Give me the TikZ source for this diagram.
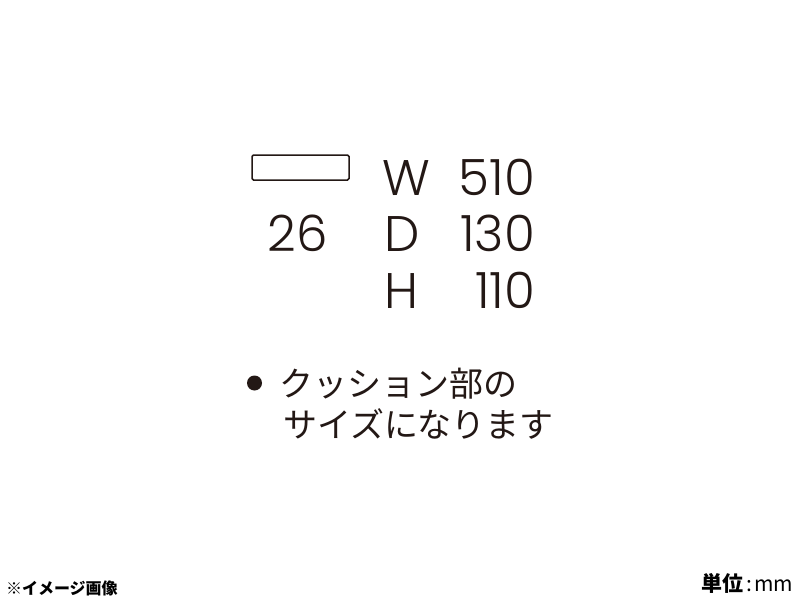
\documentclass[tikz,border=0pt]{standalone}
\usepackage{fontspec}
\setmainfont{Poppins}[UprightFont={* Light},Numbers=Monospaced]
\newfontfamily\cjk{Noto Sans CJK JP}
\definecolor{ink}{HTML}{231815}
\begin{document}
\begin{tikzpicture}[x=1pt,y=-1pt,
  lbl/.style={inner sep=0pt,outer sep=0pt,text=ink,font=\fontsize{50}{60}\selectfont},
  jp/.style={inner sep=0pt,outer sep=0pt,text=ink,font=\cjk\fontsize{34}{40}\selectfont},
  small/.style={inner sep=0pt,outer sep=0pt,text=black}]
\useasboundingbox[fill=white] (0,0) rectangle (800,600);
\draw[ink,line width=1.5pt,rounded corners=1.5pt] (252,155) rectangle (349,180);
\node[lbl,anchor=base east] (n26) at (328,251) {26};
\node[lbl,anchor=base west] (w) at (382,195) {W};
\node[lbl,anchor=base west] (d) at (384,251) {D};
\node[lbl,anchor=base west] (h) at (384,308) {H};
\node[lbl,anchor=base east] (wv) at (535,195) {510};
\node[lbl,anchor=base east] (dv) at (535,251) {130};
\node[lbl,anchor=base east] (hv) at (535,308) {110};
\fill[ink] (254.5,383) circle (7.5);
\node[jp,anchor=base west] (l1) at (279,396) {クッション部の};
\node[jp,anchor=base west] (l2) at (283,437) {サイズになります};
\node[small,anchor=base west,font=\cjk\bfseries\fontsize{16}{18}\selectfont] (note) at (6,594) {※イメージ画像};
\node[small,anchor=base east,font=\cjk\fontsize{21}{24}\selectfont] (unit) at (793,591) {{\bfseries 単位}\hspace{3pt}:\hspace{2pt}mm};
\end{tikzpicture}
\end{document}
